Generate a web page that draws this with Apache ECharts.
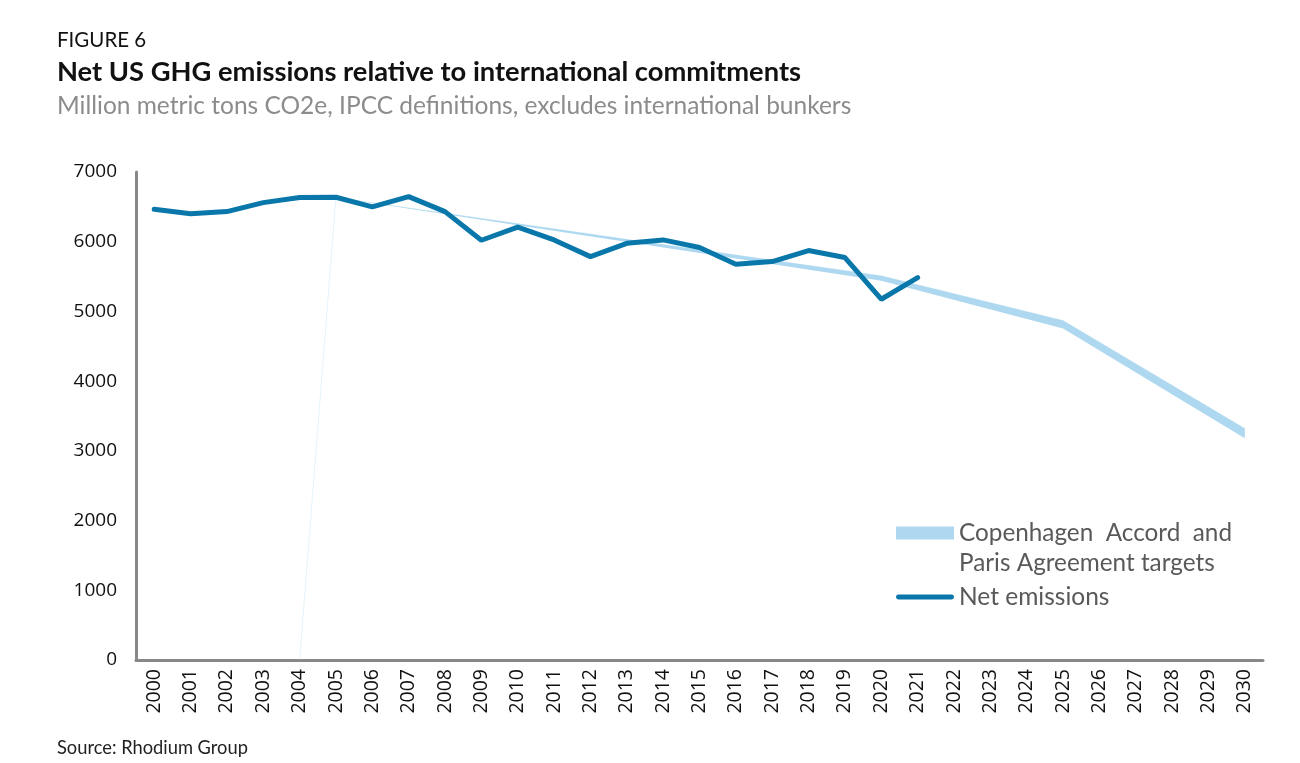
<!DOCTYPE html>
<html>
<head>
<meta charset="utf-8">
<script src="https://cdn.jsdelivr.net/npm/echarts@6/dist/echarts.min.js"></script>
<style>
  html, body { margin: 0; padding: 0; background: #ffffff; }
  #chart { width: 1300px; height: 763px; }
</style>
</head>
<body>
<div id="chart"></div>
<script>
// ---- data ----
var years = ['2000','2001','2002','2003','2004','2005','2006','2007','2008','2009',
             '2010','2011','2012','2013','2014','2015','2016','2017','2018','2019',
             '2020','2021','2022','2023','2024','2025','2026','2027','2028','2029','2030'];

var netEmissions = [6465, 6400, 6432, 6561, 6633, 6638, 6499, 6647, 6432, 6021,
                    6208, 6026, 5786, 5977, 6026, 5916, 5677, 5715, 5873, 5773,
                    5175, 5485];

// target range: anchor years with lower and upper bounds
var targetYears = ['2004', '2005', '2020', '2025', '2030'];
var targetLower = [0, 6635, 5440, 4755, 3180];
var targetUpper = [0, 6635, 5510, 4870, 3320];

var yTicks = { min: 0, max: 7000, interval: 1000 };

var bandName = 'Copenhagen  Accord  and\nParis Agreement targets';
var netName = 'Net emissions';

// ---- derived ----
var basePairs = targetYears.map(function (y, i) { return [y, targetLower[i]]; });
var bandPairs = targetYears.map(function (y, i) { return [y, targetUpper[i] - targetLower[i]]; });

var BAND = '#add8f0';
var NET = '#0a77ab';
var TXT = 'Lato, "Open Sans", sans-serif';
var AX = '"Open Sans", sans-serif';

var chart = echarts.init(document.getElementById('chart'), null, { renderer: 'canvas' });
chart.setOption({
  animation: false,
  backgroundColor: '#ffffff',
  title: [
    { text: 'FIGURE 6', left: 57, top: 30, padding: 0,
      textStyle: { fontFamily: TXT, fontSize: 20.5, fontWeight: 'normal', color: '#111111' } },
    { text: 'Net US GHG emissions relative to international commitments', left: 57, top: 59, padding: 0,
      textStyle: { fontFamily: TXT, fontSize: 27.3, fontWeight: 'bold', color: '#111111' } },
    { text: 'Million metric tons CO2e, IPCC definitions, excludes international bunkers', left: 57, top: 94, padding: 0,
      textStyle: { fontFamily: TXT, fontSize: 24.5, fontWeight: 'normal', color: '#8c8c8c' } },
    { text: 'Source: Rhodium Group', left: 57, top: 739, padding: 0,
      textStyle: { fontFamily: TXT, fontSize: 18.3, fontWeight: 'normal', color: '#222222' } }
  ],
  legend: [
    {
      left: 896, top: 518, padding: 0, selectedMode: false,
      itemWidth: 58, itemHeight: 43, symbolKeepAspect: true,
      data: [{ name: bandName,
               icon: 'path://M0,0 L58,0 L58,13 L0,13 Z M0,43',
               itemStyle: { color: BAND, borderWidth: 0 } }],
      textStyle: { fontFamily: TXT, fontSize: 24.3, lineHeight: 30, color: '#595959' }
    },
    {
      left: 896, top: 582, padding: 0, selectedMode: false,
      itemWidth: 58, itemHeight: 13,
      data: [{ name: netName,
               icon: 'path://M2.5,0 L57.5,0 A2.5,2.5 0 0 1 57.5,5 L2.5,5 A2.5,2.5 0 0 1 2.5,0 Z',
               itemStyle: { color: NET, borderWidth: 0 } }],
      textStyle: { fontFamily: TXT, fontSize: 24.5, lineHeight: 30, color: '#595959' }
    }
  ],
  grid: { left: 136, right: 37, top: 172, bottom: 103, containLabel: false },
  xAxis: {
    type: 'category',
    data: years,
    boundaryGap: true,
    axisLine: { show: true, lineStyle: { color: '#888888', width: 3 } },
    axisTick: { show: false },
    splitLine: { show: false },
    axisLabel: { interval: 0, rotate: 90, margin: 9, fontSize: 19.5, color: '#111111', fontFamily: AX }
  },
  yAxis: {
    type: 'value',
    min: yTicks.min, max: yTicks.max, interval: yTicks.interval,
    axisLine: { show: true, lineStyle: { color: '#888888', width: 3 } },
    axisTick: { show: false },
    splitLine: { show: false },
    axisLabel: { margin: 19, fontSize: 19, color: '#111111', fontFamily: AX,
                 formatter: function (v) { return String(v); } }
  },
  series: [
    {
      name: 'targetBase', type: 'line', stack: 'target', data: basePairs,
      symbol: 'none', silent: true,
      lineStyle: { width: 0, opacity: 0 }, itemStyle: { color: BAND }, z: 1
    },
    {
      name: bandName, type: 'line', stack: 'target', data: bandPairs,
      symbol: 'none', silent: true,
      lineStyle: { width: 0.8, color: BAND, opacity: 0.4 },
      areaStyle: { color: BAND, opacity: 1 },
      itemStyle: { color: BAND }, z: 2
    },
    {
      name: netName, type: 'line', data: netEmissions,
      symbol: 'none', silent: true,
      lineStyle: { width: 5, color: NET, cap: 'round' },
      itemStyle: { color: NET }, z: 3
    }
  ]
});
</script>
</body>
</html>
